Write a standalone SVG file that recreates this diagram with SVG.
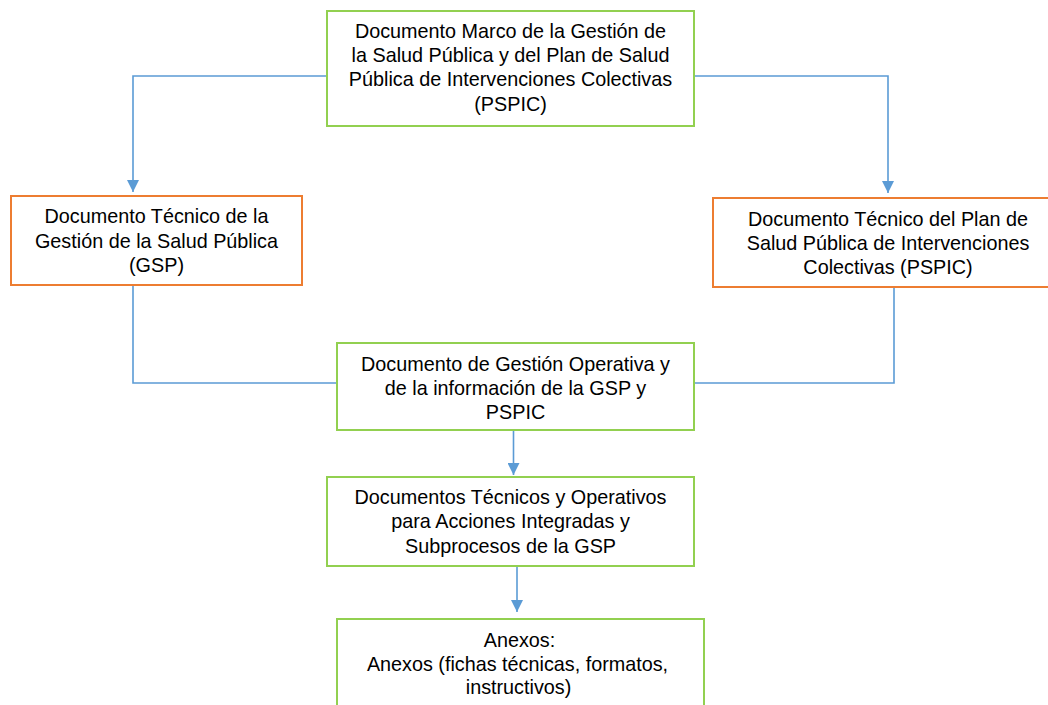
<svg xmlns="http://www.w3.org/2000/svg" width="1048" height="705" viewBox="0 0 1048 705">
<defs>
<style>
.g{fill:#fff;stroke:#92D050;stroke-width:2}
.o{fill:#fff;stroke:#ED7D31;stroke-width:2}
.t{font-family:"Liberation Sans",Arial,sans-serif;font-size:19.8px;fill:#000;text-anchor:middle}
.c{fill:none;stroke:#5B9BD5;stroke-width:1.6}
</style>
<marker id="ah" markerWidth="12" markerHeight="12" viewBox="0 0 12 12" refX="12" refY="6" orient="auto" markerUnits="userSpaceOnUse">
<path d="M0,0 L12,6 L0,12 Z" fill="#5B9BD5"/>
</marker>
</defs>
<rect width="1048" height="705" fill="#fff"/>
<g id="connectors">
<path class="c" d="M327,76 H133 V192" marker-end="url(#ah)"/>
<path class="c" d="M694,76 H888 V193" marker-end="url(#ah)"/>
<path class="c" d="M133,285 V383 H337"/>
<path class="c" d="M894,287 V383 H694"/>
<path class="c" d="M513.5,430 V475" marker-end="url(#ah)"/>
<path class="c" d="M517,566 V612" marker-end="url(#ah)"/>
</g>
<g id="n1">
<rect class="g" x="327" y="11" width="367" height="115"/>
<text class="t"><tspan x="510.5" y="37.5">Documento Marco de la Gestión de</tspan><tspan x="510.5" y="62">la Salud Pública y del Plan de Salud</tspan><tspan x="510.5" y="86.3">Pública de Intervenciones Colectivas</tspan><tspan x="510.5" y="110.6">(PSPIC)</tspan></text>
</g>
<g id="n2">
<rect class="o" x="11" y="196" width="291" height="89"/>
<text class="t"><tspan x="156.5" y="223.3">Documento Técnico de la</tspan><tspan x="156.5" y="247.8">Gestión de la Salud Pública</tspan><tspan x="156.5" y="272">(GSP)</tspan></text>
</g>
<g id="n3">
<rect class="o" x="713" y="198" width="350" height="89"/>
<text class="t"><tspan x="888" y="225.8">Documento Técnico del Plan de</tspan><tspan x="888" y="250">Salud Pública de Intervenciones</tspan><tspan x="888" y="274.3">Colectivas (PSPIC)</tspan></text>
</g>
<g id="n4">
<rect class="g" x="337" y="343" width="357" height="87"/>
<text class="t"><tspan x="515.5" y="370.7">Documento de Gestión Operativa y</tspan><tspan x="515.5" y="395">de la información de la GSP y</tspan><tspan x="515.5" y="419.3">PSPIC</tspan></text>
</g>
<g id="n5">
<rect class="g" x="327" y="477" width="367" height="89"/>
<text class="t"><tspan x="510.5" y="503.5">Documentos Técnicos y Operativos</tspan><tspan x="510.5" y="528">para Acciones Integradas y</tspan><tspan x="510.5" y="552.5">Subprocesos de la GSP</tspan></text>
</g>
<g id="n6">
<rect class="g" x="337" y="619" width="367" height="110"/>
<text class="t"><tspan x="519.5" y="647.3">Anexos:</tspan><tspan x="517.5" y="670.7">Anexos (fichas técnicas, formatos,</tspan><tspan x="518.5" y="693.5">instructivos)</tspan></text>
</g>
</svg>
